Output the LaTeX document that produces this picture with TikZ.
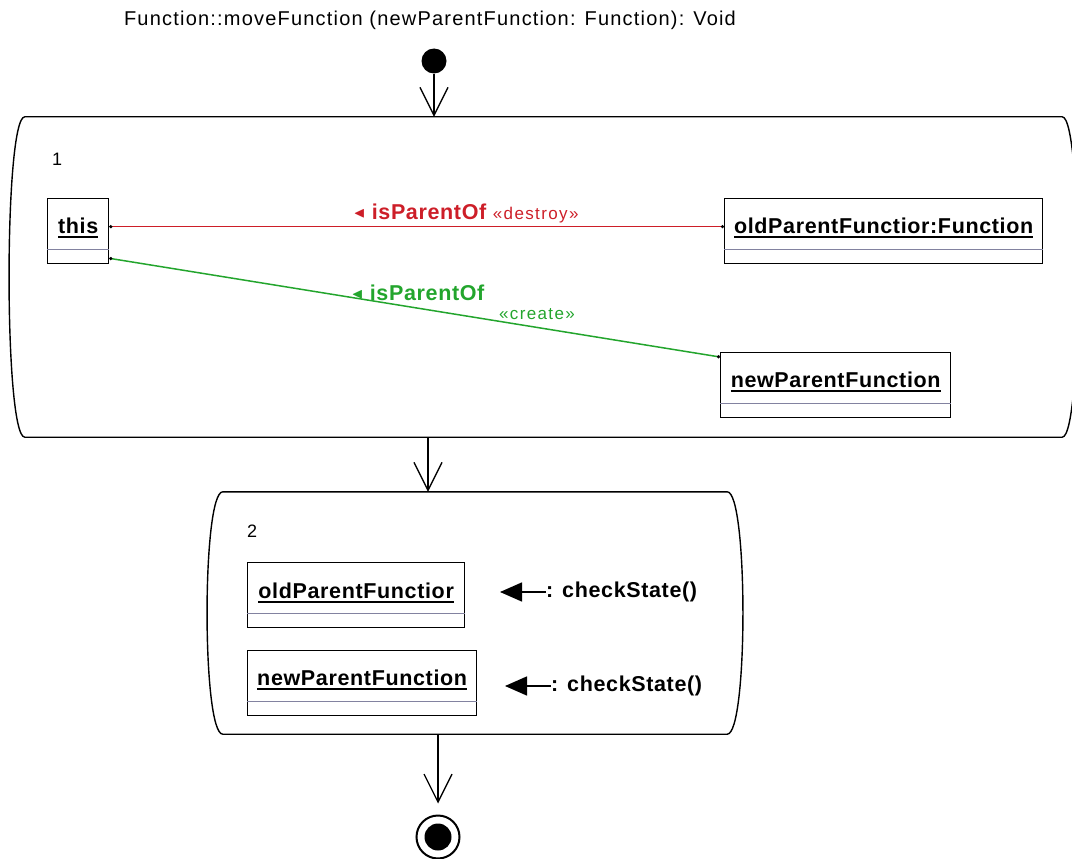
\documentclass[tikz,border=0pt]{standalone}
\usepackage{fontspec}
\usepackage{amssymb}
\setmainfont{Liberation Sans}
\newfontfamily\umlfont[LetterSpace=3]{Liberation Sans}
\newfontfamily\titlefont[LetterSpace=6]{Liberation Sans}
\newfontfamily\stereofont[LetterSpace=8]{Liberation Sans}
\usetikzlibrary{arrows.meta,positioning}

\definecolor{linkred}{RGB}{205,30,40}
\definecolor{linkgreen}{RGB}{35,165,45}
\definecolor{divgray}{RGB}{130,130,160}

% underlined object name
\newcommand{\objul}[1]{\vtop{\hbox{#1}\kern3pt\hrule height 1.6pt}}

\begin{document}
\begin{tikzpicture}
  [x=1pt,y=-1pt,
   objbox/.style={draw=black,line width=1.3pt,fill=white,inner sep=0pt,minimum height=65pt,anchor=north west},
   objname/.style={font=\umlfont\bfseries\fontsize{21.5}{24}\selectfont,inner sep=0pt,anchor=base},
   divider/.style={draw=divgray,line width=1.6pt},
   actline/.style={draw=black,line width=1.4pt},
   actarea/.style={inner sep=0pt},
   actnum/.style={font=\fontsize{18}{20}\selectfont,anchor=base west,inner sep=0pt},
   flow/.style={line width=1.3pt,-{Straight Barb[length=28pt,width=28pt]}},
   link/.style={line width=1.5pt,{Circle[black,length=3pt]}-{Circle[black,length=3pt]}},
   linklbl/.style={font=\umlfont\bfseries\fontsize{21.5}{24}\selectfont,inner sep=0pt,anchor=base},
   stereo/.style={font=\stereofont\fontsize{17}{20}\selectfont,inner sep=0pt,anchor=base},
   callname/.style={font=\umlfont\bfseries\fontsize{21.5}{24}\selectfont,inner sep=0pt,anchor=west},
   callarrow/.style={line width=1.5pt,-{Triangle[length=22pt,width=19pt]}}]
  \useasboundingbox (0,0) rectangle (1072,859);

  \node[font=\titlefont\fontsize{20}{22}\selectfont] (title) at (430,20) {Function::moveFunction (newParentFunction: Function): Void};

  % start / end
  \node[circle,fill=black,inner sep=0pt,minimum size=25pt] (start) at (434,61) {};
  \node[circle,draw=black,line width=2pt,inner sep=0pt,minimum size=43pt] (final) at (438,837) {};
  \fill (final.center) circle (13.5pt);

  % activity 1
  \node[actarea,minimum width=1037pt,minimum height=320pt] (act1) at (543.5,277) {};
  \draw[actline] (act1.north west) -- (act1.north east)
    .. controls ([xshift=21pt]act1.north east) and ([xshift=21pt]act1.south east) .. (act1.south east)
    -- (act1.south west)
    .. controls ([xshift=-21pt]act1.south west) and ([xshift=-21pt]act1.north west) .. cycle;
  \node[actnum] (num1) at (52,165) {1};

  \node[objbox,minimum width=61pt] (this) at (47,198) {};
  \node[objname] (thislbl) at ([yshift=-35pt]this.north) {\objul{this}};
  \draw[divider] ([yshift=15pt]this.south west) -- ([yshift=15pt]this.south east);

  \node[objbox,minimum width=318pt] (old) at (724,198) {};
  \node[objname] (oldlbl) at ([yshift=-35pt]old.north) {\objul{oldParentFunctior:Function}};
  \draw[divider] ([yshift=15pt]old.south west) -- ([yshift=15pt]old.south east);

  \node[objbox,minimum width=230pt] (new) at (720,352) {};
  \node[objname] (newlbl) at ([yshift=-35pt]new.north) {\objul{newParentFunction}};
  \draw[divider] ([yshift=15pt]new.south west) -- ([yshift=15pt]new.south east);

  \draw[link,linkred] ([yshift=4.5pt]this.east) -- ([yshift=4.5pt]old.west);
  \draw[link,linkgreen] ([yshift=6pt]this.south east) -- ([yshift=-5pt]new.north west);

  \node[linklbl,text=linkred] (destroylbl) at (466,219)
    {\raisebox{2pt}{\fontsize{15}{15}\selectfont$\blacktriangleleft$} isParentOf {\stereofont\mdseries\fontsize{17}{20}\selectfont «destroy»}};
  \node[linklbl,text=linkgreen] (createlbl) at (418,300)
    {\raisebox{2pt}{\fontsize{15}{15}\selectfont$\blacktriangleleft$} isParentOf};
  \node[stereo,text=linkgreen] (createst) at (537,319) {«create»};

  % activity 2
  \node[actarea,minimum width=504pt,minimum height=242pt] (act2) at (475,613) {};
  \draw[actline] (act2.north west) -- (act2.north east)
    .. controls ([xshift=21pt]act2.north east) and ([xshift=21pt]act2.south east) .. (act2.south east)
    -- (act2.south west)
    .. controls ([xshift=-21pt]act2.south west) and ([xshift=-21pt]act2.north west) .. cycle;
  \node[actnum] (num2) at (247,537) {2};

  \node[objbox,minimum width=217pt] (old2) at (247,562) {};
  \node[objname] (old2lbl) at ([yshift=-36pt]old2.north) {\objul{oldParentFunctior}};
  \draw[divider] ([yshift=15pt]old2.south west) -- ([yshift=15pt]old2.south east);

  \node[objbox,minimum width=229pt] (new2) at (247,650) {};
  \node[objname] (new2lbl) at ([yshift=-35pt]new2.north) {\objul{newParentFunction}};
  \draw[divider] ([yshift=15pt]new2.south west) -- ([yshift=15pt]new2.south east);

  \node[callname] (chk1) at (546,592) {: checkState()};
  \coordinate (chk1tip) at (500,592);
  \draw[callarrow] (chk1.west) -- (chk1tip);
  \node[callname] (chk2) at (551,686) {: checkState()};
  \coordinate (chk2tip) at (505,686);
  \draw[callarrow] (chk2.west) -- (chk2tip);

  % control flow
  \coordinate (j1) at (428,437);
  \draw[flow] (start) -- (start |- act1.north);
  \draw[flow] (j1) -- (j1 |- act2.north);
  \draw[flow,shorten >=11pt] (final |- act2.south) -- (final.north);
\end{tikzpicture}
\end{document}
